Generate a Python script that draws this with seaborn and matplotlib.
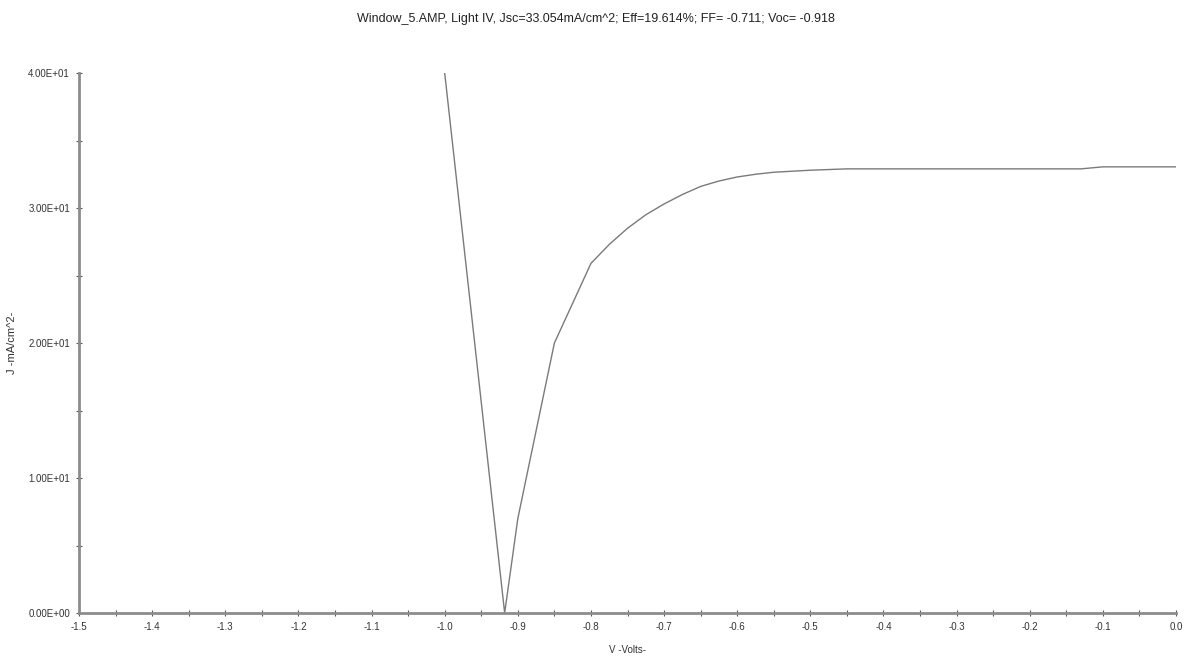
import matplotlib
matplotlib.use("Agg")
import matplotlib.pyplot as plt
import seaborn as sns
import pandas as pd
from matplotlib.ticker import MultipleLocator, FuncFormatter

voltage = [-1.0, -0.918, -0.9, -0.85, -0.8, -0.775, -0.75, -0.725, -0.7, -0.675,
           -0.65, -0.625, -0.6, -0.575, -0.55, -0.5, -0.45, -0.4, -0.35, -0.3,
           -0.25, -0.2, -0.13, -0.1, -0.05, 0.0]
current = [40.0, 0.0, 7.0, 20.0, 25.9, 27.3, 28.5, 29.5, 30.3, 31.0,
           31.6, 32.0, 32.3, 32.5, 32.65, 32.8, 32.9, 32.9, 32.9, 32.9,
           32.9, 32.9, 32.9, 33.05, 33.05, 33.05]
title = "Window_5.AMP, Light IV, Jsc=33.054mA/cm^2; Eff=19.614%; FF= -0.711; Voc= -0.918"
x_label = "V -Volts-"
y_label = "J -mA/cm^2-"

df = pd.DataFrame({"V": voltage, "J": current})

sns.set_theme(style="white")
plt.rcParams['font.family'] = ['Liberation Sans', 'DejaVu Sans']

fig = plt.figure(figsize=(11.92, 6.62), dpi=100)
ax = fig.add_axes([0.0663, 0.074, 0.9203, 0.8157])
sns.lineplot(data=df, x="V", y="J", ax=ax, color="#7a7a7a", linewidth=1.0, sort=False)

ax.set_xlim(-1.5, 0.0)
ax.set_ylim(0, 40)
ax.xaxis.set_major_locator(MultipleLocator(0.1))
ax.xaxis.set_minor_locator(MultipleLocator(0.05))
ax.yaxis.set_major_locator(MultipleLocator(10))
ax.yaxis.set_minor_locator(MultipleLocator(5))
ax.xaxis.set_major_formatter(FuncFormatter(lambda v, p: f"{v:.1f}" if abs(v) > 1e-9 else "0.0"))
ax.yaxis.set_major_formatter(FuncFormatter(lambda v, p: f"{v:.2E}"))

for s in ["top", "right"]:
    ax.spines[s].set_visible(False)
for s in ["left", "bottom"]:
    ax.spines[s].set_color("#8c8c8c")
    ax.spines[s].set_linewidth(2.0)

ax.tick_params(which="both", direction="inout", color="#555555", width=0.8,
               left=True, bottom=True)
ax.tick_params(which="major", length=5, labelsize=7, labelcolor="#333333", pad=4)
ax.tick_params(which="minor", length=4)

ax.set_xlabel(x_label, fontsize=7, color="#333333", labelpad=9)
ax.set_ylabel(y_label, fontsize=8, color="#333333", labelpad=8)
ax.grid(False)
fig.suptitle(title, fontsize=9, color="#222222", y=0.98)

fig.savefig("out.png", dpi=100, facecolor="white")
